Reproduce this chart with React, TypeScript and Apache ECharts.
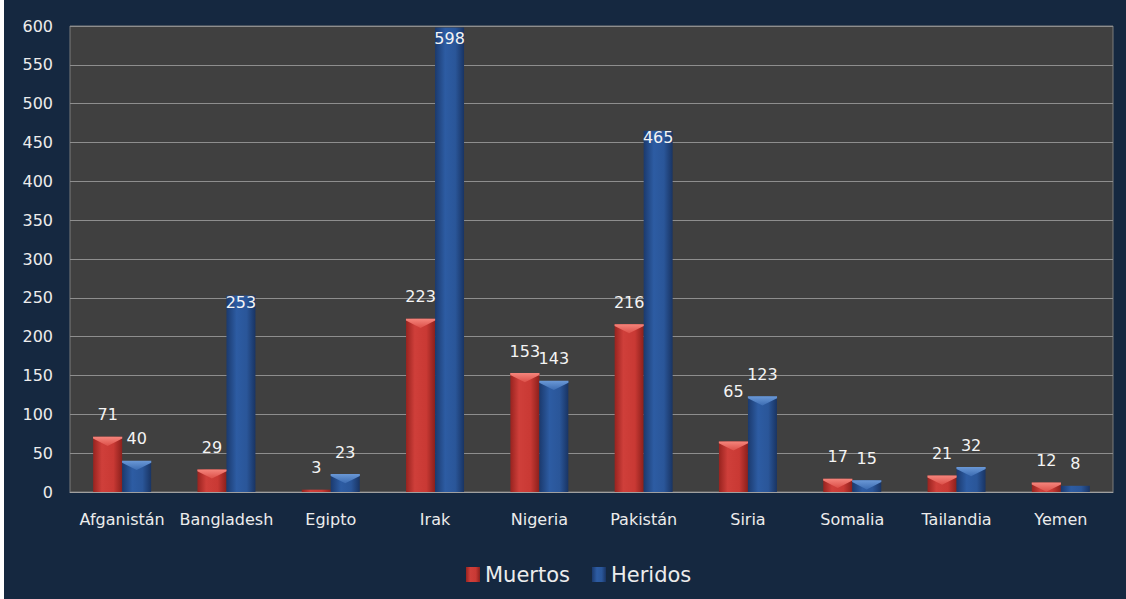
import React, { useEffect, useRef } from "react";
import * as echarts from "echarts";

const categories = ["Afganistán", "Bangladesh", "Egipto", "Irak", "Nigeria", "Pakistán", "Siria", "Somalia", "Tailandia", "Yemen"];
const muertos = [71, 29, 3, 223, 153, 216, 65, 17, 21, 12];
const heridos = [40, 253, 23, 598, 143, 465, 123, 15, 32, 8];
const yTicks = { min: 0, max: 600, interval: 50 };
const seriesNames = ["Muertos", "Heridos"];

const FONT = "DejaVu Sans";
const TEXT = "#ececec";

const redFill = new echarts.graphic.LinearGradient(0, 0, 1, 0, [
  { offset: 0, color: "#98231f" },
  { offset: 0.3, color: "#cf3f3a" },
  { offset: 0.7, color: "#c93934" },
  { offset: 1, color: "#8c201c" },
]);
const blueFill = new echarts.graphic.LinearGradient(0, 0, 1, 0, [
  { offset: 0, color: "#1b3a6e" },
  { offset: 0.35, color: "#2d5ca3" },
  { offset: 0.7, color: "#2a5699" },
  { offset: 1, color: "#193463" },
]);
const redCap = new echarts.graphic.LinearGradient(0, 0, 0, 1, [
  { offset: 0, color: "#f5857c" },
  { offset: 1, color: "#dc4f48" },
]);
const blueCap = new echarts.graphic.LinearGradient(0, 0, 0, 1, [
  { offset: 0, color: "#6a98d6" },
  { offset: 1, color: "#3c6cb2" },
]);

const CAP = "path://M0,0 L30,0 L30,2 L15,10 L0,2 Z";

export default function App() {
  const ref = useRef<HTMLDivElement>(null);
  useEffect(() => {
    if (!ref.current) return;
    const chart = echarts.init(ref.current, null, { renderer: "svg" });
    const labelBase = {
      show: true,
      position: "top" as const,
      distance: 14,
      color: "#f4f4f4",
      fontFamily: FONT,
      fontSize: 16,
    };
    const insideNames = ["Bangladesh", "Irak", "Pakistán"];
    const muertosData = muertos.map((v, i) =>
      categories[i] === "Siria" ? { value: v, label: { offset: [0, -28] } } : v
    );
    const heridosData = heridos.map((v, i) =>
      insideNames.includes(categories[i])
        ? { value: v, label: { position: "insideTop", distance: categories[i] === "Irak" ? 3 : -1 } }
        : v
    );
    const capData = (arr: number[], skipInside: boolean) =>
      arr.map((v, i) => (v >= 10 && !(skipInside && insideNames.includes(categories[i])) ? v : "-"));
    chart.setOption({
      animation: false,
      backgroundColor: "#152840",
      textStyle: { fontFamily: FONT },
      graphic: [
        { type: "rect", left: 0, top: 0, shape: { width: 4, height: 599 }, style: { fill: "#ffffff" }, z: 100 },
      ],
      grid: {
        left: 70,
        right: 13,
        top: 26,
        bottom: 107,
        show: true,
        backgroundColor: "#404040",
        borderColor: "#7a7a7a",
        borderWidth: 1,
      },
      legend: {
        data: seriesNames,
        left: 461,
        top: 559,
        itemWidth: 14,
        itemHeight: 15,
        itemGap: 22,
        icon: "rect",
        textStyle: { color: TEXT, fontSize: 21, fontFamily: FONT },
      },
      xAxis: {
        type: "category",
        data: categories,
        axisLine: { lineStyle: { color: "#a0a0a0", width: 1 } },
        axisTick: { show: false },
        axisLabel: { color: TEXT, fontSize: 16, margin: 19, fontFamily: FONT, interval: 0 },
      },
      yAxis: {
        type: "value",
        min: yTicks.min,
        max: yTicks.max,
        interval: yTicks.interval,
        axisLine: { show: false },
        axisTick: { show: false },
        axisLabel: { color: TEXT, fontSize: 16, margin: 17, fontFamily: FONT },
        splitLine: { lineStyle: { color: "#8e8e8e", width: 1 } },
      },
      series: [
        {
          name: seriesNames[0],
          type: "bar",
          data: muertosData,
          barWidth: 29,
          barGap: "0%",
          itemStyle: { color: redFill },
          label: labelBase,
          z: 2,
        },
        {
          name: seriesNames[1],
          type: "bar",
          data: heridosData,
          barWidth: 29,
          barGap: "0%",
          itemStyle: { color: blueFill },
          label: labelBase,
          z: 2,
        },
        {
          name: "capM",
          type: "pictorialBar",
          data: capData(muertos, false),
          symbol: CAP,
          symbolSize: [29, 9],
          symbolPosition: "end",
          symbolOffset: ["-50%", 0],
          itemStyle: { color: redCap },
          silent: true,
          z: 3,
        },
        {
          name: "capH",
          type: "pictorialBar",
          data: capData(heridos, true),
          symbol: CAP,
          symbolSize: [29, 9],
          symbolPosition: "end",
          symbolOffset: ["50%", 0],
          itemStyle: { color: blueCap },
          silent: true,
          z: 3,
        },
      ],
    });
    return () => chart.dispose();
  }, []);
  return (
    <div
      ref={ref}
      style={{ position: "fixed", left: 0, top: 0, width: 1126, height: 599 }}
    />
  );
}
